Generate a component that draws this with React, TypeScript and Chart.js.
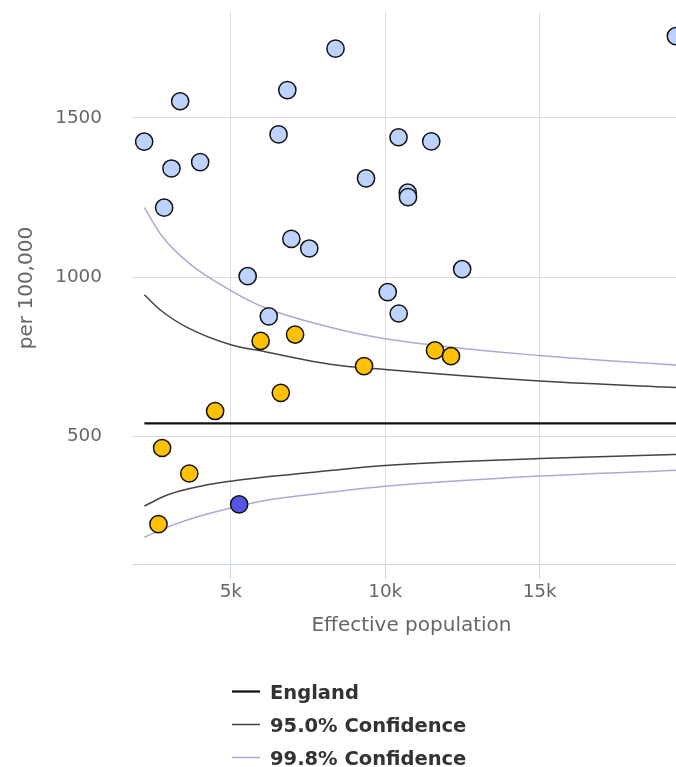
import React, { useEffect, useRef } from 'react';
import { Chart, registerables } from 'chart.js';

Chart.register(...registerables);

// Areas significantly higher than England (effective population, rate per 100,000)
const higherPop = [2194, 3359, 3078, 4007, 2840, 8390, 6830, 6545, 19410, 10430, 11490, 9378, 10728, 10737, 6960, 7540, 5545, 12490, 10080, 10436, 6230];
const higherRate = [1425, 1552, 1341, 1361, 1218, 1717, 1587, 1448, 1756, 1439, 1426, 1310, 1265, 1251, 1120, 1090, 1003, 1025, 953, 886, 877];

// Areas similar to England
const similarPop = [5965, 7081, 9314, 11611, 12129, 6618, 4492, 2775, 3655, 2657];
const similarRate = [800, 820, 721, 770, 752, 637, 580, 464, 384, 225];

// Areas significantly lower than England
const lowerPop = [5269];
const lowerRate = [287];

// England average
const englandPop = [2200, 19900];
const englandRate = [541, 541];

// Control limits (funnel), upper and lower
const upperLimitPop = [2200, 2770, 3630, 5000, 6110, 8210, 10000, 15000, 19900];
const upper95 = [945, 893, 840, 788, 766, 727, 710, 674, 652];
const upper998 = [1218, 1129, 1045, 958, 904, 843, 807, 754, 721];

const lowerLimitPop = [2200, 2980, 4060, 5000, 6110, 8210, 10000, 15000, 19900];
const lower95 = [282, 318, 345, 360, 373, 393, 409, 431, 445];
const lower998 = [184, 217, 252, 276, 299, 325, 344, 376, 396];

// Axis ticks
const xTicks = [5000, 10000, 15000];
const xTickLabels = ['5k', '10k', '15k'];
const yTicks = [500, 1000, 1500];
const yTickLabels = ['500', '1000', '1500'];

const FONT = 'DejaVu Sans';

const toXY = (xs: number[], ys: number[]) => xs.map((x, i) => ({ x, y: ys[i] }));

const pointStyle = (color: string) => ({
  type: 'scatter' as const,
  backgroundColor: color,
  borderColor: '#111111',
  borderWidth: 1.5,
  pointRadius: 8.6,
  pointHoverRadius: 8.6,
  order: 0,
});

const lineStyle = (label: string, color: string, width: number) => ({
  type: 'line' as const,
  label,
  borderColor: color,
  borderWidth: width,
  pointRadius: 0,
  pointHoverRadius: 0,
  fill: false,
  cubicInterpolationMode: 'monotone' as const,
  order: 1,
});

// Legend drawn as a vertical list of line samples below the plot
const stackedLegend = {
  id: 'stackedLegend',
  afterDraw(chart: any) {
    const { ctx } = chart;
    const seen = new Set<string>();
    const items: any[] = [];
    chart.data.datasets.forEach((ds: any) => {
      if (ds.type === 'line' && ds.label && !seen.has(ds.label)) {
        seen.add(ds.label);
        items.push(ds);
      }
    });
    ctx.save();
    ctx.font = `bold 19.5px "${FONT}"`;
    ctx.textAlign = 'left';
    ctx.textBaseline = 'alphabetic';
    items.forEach((ds, i) => {
      const baseY = 699 + i * 33;
      const lineY = baseY - 7.5;
      ctx.strokeStyle = ds.borderColor;
      ctx.lineWidth = ds.borderWidth;
      ctx.beginPath();
      ctx.moveTo(232, lineY);
      ctx.lineTo(260, lineY);
      ctx.stroke();
      ctx.fillStyle = '#333333';
      ctx.fillText(ds.label, 270, baseY);
    });
    ctx.restore();
  },
};

export default function App() {
  const canvasRef = useRef<HTMLCanvasElement>(null);

  useEffect(() => {
    const canvas = canvasRef.current;
    if (!canvas) return;

    const chart = new Chart(canvas, {
      type: 'scatter',
      data: {
        datasets: [
          { ...pointStyle('#BED2FF'), label: 'Higher', data: toXY(higherPop, higherRate) },
          { ...pointStyle('#FFC000'), label: 'Similar', data: toXY(similarPop, similarRate) },
          { ...pointStyle('#5555E6'), label: 'Lower', data: toXY(lowerPop, lowerRate) },
          { ...lineStyle('England', '#111111', 2.25), data: toXY(englandPop, englandRate) },
          { ...lineStyle('95.0% Confidence', '#444444', 1.5), data: toXY(upperLimitPop, upper95) },
          { ...lineStyle('95.0% Confidence', '#444444', 1.5), data: toXY(lowerLimitPop, lower95) },
          { ...lineStyle('99.8% Confidence', '#aaaad4', 1.5), data: toXY(upperLimitPop, upper998) },
          { ...lineStyle('99.8% Confidence', '#aaaad4', 1.5), data: toXY(lowerLimitPop, lower998) },
        ] as any,
      },
      options: {
        responsive: false,
        animation: false,
        devicePixelRatio: 1,
        events: [],
        layout: { padding: { top: 12, right: 15, bottom: 127, left: 0 } },
        plugins: {
          legend: { display: false },
          tooltip: { enabled: false },
        },
        scales: {
          x: {
            type: 'linear',
            min: 1800,
            max: 19900,
            afterBuildTicks: (scale: any) => {
              scale.ticks = xTicks.map((value) => ({ value }));
            },
            afterFit: (scale: any) => {
              scale.height = 76;
              scale.paddingLeft = 0;
              scale.paddingRight = 0;
            },
            grid: { color: '#dcdcdc', tickColor: '#ccd6eb', tickLength: 15, lineWidth: 1 },
            border: { display: true, color: '#ccd6eb', width: 1 },
            ticks: {
              padding: 2,
              color: '#666666',
              maxRotation: 0,
              autoSkip: false,
              font: { family: FONT, size: 18.4 },
              callback: (_v: any, i: number) => xTickLabels[i],
            },
            title: {
              display: true,
              text: 'Effective population',
              color: '#666666',
              font: { family: FONT, size: 20 },
              padding: { top: 0, bottom: 2 },
            },
          },
          y: {
            type: 'linear',
            min: 100,
            max: 1832,
            afterBuildTicks: (scale: any) => {
              scale.ticks = yTicks.map((value) => ({ value }));
            },
            afterFit: (scale: any) => {
              scale.width = 132;
              scale.paddingTop = 0;
              scale.paddingBottom = 0;
            },
            grid: { color: '#dcdcdc', drawTicks: false, lineWidth: 1 },
            border: { display: false },
            ticks: {
              padding: 30,
              color: '#666666',
              autoSkip: false,
              font: { family: FONT, size: 18.4 },
              callback: (_v: any, i: number) => yTickLabels[i],
            },
            title: {
              display: true,
              text: 'per 100,000',
              color: '#666666',
              font: { family: FONT, size: 20 },
              padding: { top: 15, bottom: 0 },
            },
          },
        },
      } as any,
      plugins: [stackedLegend],
    });

    return () => chart.destroy();
  }, []);

  return (
    <div
      style={{
        position: 'fixed',
        left: 0,
        top: 0,
        width: 676,
        height: 767,
        overflow: 'hidden',
        background: '#ffffff',
      }}
    >
      <canvas ref={canvasRef} width={706} height={767} style={{ display: 'block', width: 706, height: 767 }} />
    </div>
  );
}
